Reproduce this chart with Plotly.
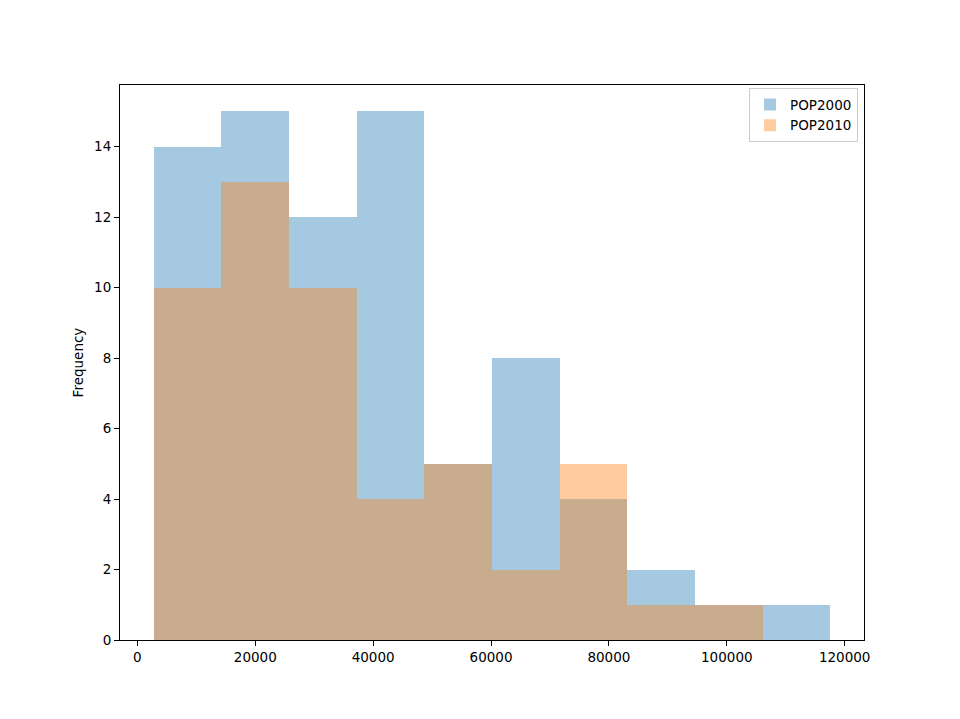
import numpy as np
import plotly.graph_objects as go

# Histogram bins (shared by both series)
bin_start = 2790
bin_width = 11475
n_bins = 10

pop2000_counts = [14, 15, 12, 15, 5, 8, 4, 2, 1, 1]
pop2010_counts = [10, 13, 10, 4, 5, 2, 5, 1, 1, 0]
series_names = ["POP2000", "POP2010"]

edges = bin_start + bin_width * np.arange(n_bins + 1)
centers = (edges[:-1] + edges[1:]) / 2

font = dict(family="DejaVu Sans", size=13.5, color="black")

fig = go.Figure()
fig.add_trace(go.Bar(x=centers, y=pop2000_counts, width=bin_width, name=series_names[0],
                     marker=dict(color="rgba(31,119,180,0.4)", line=dict(width=0))))
fig.add_trace(go.Bar(x=centers, y=pop2010_counts, width=bin_width, name=series_names[1],
                     marker=dict(color="rgba(255,127,14,0.4)", line=dict(width=0))))

span = edges[-1] - edges[0]
fig.update_layout(
    width=960, height=719,
    margin=dict(l=120, r=96, t=85, b=79),
    barmode="overlay",
    bargap=0,
    plot_bgcolor="white",
    paper_bgcolor="white",
    font=font,
    showlegend=True,
    legend=dict(x=0.992, y=0.994, xanchor="right", yanchor="top",
                bordercolor="#cccccc", borderwidth=1, bgcolor="rgba(255,255,255,0.8)",
                font=font, tracegroupgap=2),
    xaxis=dict(range=[edges[0] - 0.05 * span, edges[-1] + 0.05 * span],
               tickvals=[0, 20000, 40000, 60000, 80000, 100000, 120000],
               ticktext=["0", "20000", "40000", "60000", "80000", "100000", "120000"],
               showgrid=False, zeroline=False, showline=True, mirror=True,
               linecolor="black", linewidth=1, ticks="outside", ticklen=5,
               tickcolor="black", tickwidth=1),
    yaxis=dict(range=[0, 15.75], tickvals=list(range(0, 15, 2)),
               title=dict(text="Frequency", font=font, standoff=7),
               showgrid=False, zeroline=False, showline=True, mirror=True,
               linecolor="black", linewidth=1, ticks="outside", ticklen=5,
               tickcolor="black", tickwidth=1),
)

fig.write_html("out.html")
